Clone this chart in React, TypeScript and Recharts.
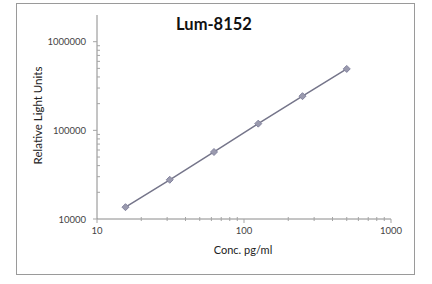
import React from 'react';
import { LineChart, Line, XAxis, YAxis } from 'recharts';

const concentrations = [15.625, 31.25, 62.5, 125, 250, 500];
const rlu = [13600, 27700, 57000, 119000, 243000, 493000];

const xMajor = [10, 100, 1000];
const xMinor = [20, 30, 40, 50, 60, 70, 80, 90, 200, 300, 400, 500, 600, 700, 800, 900];
const yMajor = [10000, 100000, 1000000];
const yMinor = [20000, 30000, 40000, 50000, 60000, 70000, 80000, 90000,
  200000, 300000, 400000, 500000, 600000, 700000, 800000, 900000];

const data = concentrations.map((x, i) => ({ x, y: rlu[i] }));

const AXIS = '#8a8a8a';
const FONT = 'Lato, "Open Sans", sans-serif';

function XTick({ x, y, payload }: any) {
  const major = xMajor.includes(payload.value);
  return (
    <g>
      <line x1={x} x2={x} y1={y - (major ? 0 : 2)} y2={y + (major ? 4 : 2)} stroke="#a5a5a5" strokeWidth={1} />
      {major && (
        <text x={x} y={y + 15} textAnchor="middle" fontSize={9.5} fill="#444" fontFamily={FONT}>
          {payload.value}
        </text>
      )}
    </g>
  );
}

function YTick({ x, y, payload }: any) {
  const major = yMajor.includes(payload.value);
  return (
    <g>
      <line x1={major ? x - 4 : x} x2={major ? x : x + 3} y1={y} y2={y} stroke="#a5a5a5" strokeWidth={1} />
      {major && (
        <text x={x - 11} y={y + 3.5} textAnchor="end" fontSize={9.5} fill="#444" fontFamily={FONT}>
          {payload.value}
        </text>
      )}
    </g>
  );
}

function Diamond({ cx, cy }: any) {
  if (cx == null || cy == null) return null;
  const r = 3.5;
  return (
    <path
      d={`M${cx},${cy - r}L${cx + r},${cy}L${cx},${cy + r}L${cx - r},${cy}Z`}
      fill="#9a9aae"
      stroke="#8585a0"
      strokeWidth={1}
    />
  );
}

export default function App() {
  return (
    <div style={{ position: 'fixed', left: 0, top: 0, width: 432, height: 284, background: '#fff', fontFamily: FONT }}>
      <div style={{ position: 'absolute', left: 16, top: 3, width: 397, height: 270, border: '1px solid #9a9a9a' }} />
      <div style={{ position: 'absolute', left: 114, width: 200, top: 14, textAlign: 'center', fontSize: 16.5, fontWeight: 700, color: '#111' }}>
        Lum-8152
      </div>
      <div style={{ position: 'absolute', left: 143, width: 200, top: 243, textAlign: 'center', fontSize: 11, color: '#222' }}>
        Conc. pg/ml
      </div>
      <div
        style={{
          position: 'absolute', left: -63, width: 200, top: 109, textAlign: 'center', fontSize: 11.5, color: '#222',
          transform: 'rotate(-90deg)', transformOrigin: '50% 50%',
        }}
      >
        Relative Light Units
      </div>
      <div style={{ position: 'absolute', left: 0, top: 0 }}>
        <LineChart width={432} height={284} data={data} margin={{ top: 15, right: 41, bottom: 35, left: 0 }}>
          <XAxis
            dataKey="x"
            type="number"
            scale="log"
            domain={[10, 1000]}
            ticks={[...xMajor, ...xMinor]}
            interval={0}
            tick={<XTick />}
            tickLine={false}
            tickSize={0}
            tickMargin={0}
            height={30}
            axisLine={{ stroke: AXIS }}
            allowDataOverflow
          />
          <YAxis
            type="number"
            scale="log"
            domain={[10000, 2000000]}
            ticks={[...yMajor, ...yMinor]}
            interval={0}
            tick={<YTick />}
            tickLine={false}
            tickSize={0}
            tickMargin={0}
            width={97}
            axisLine={{ stroke: AXIS }}
            allowDataOverflow
          />
          <Line
            dataKey="y"
            stroke="#75758a"
            strokeWidth={1.5}
            dot={<Diamond />}
            activeDot={false}
            isAnimationActive={false}
          />
        </LineChart>
      </div>
    </div>
  );
}
